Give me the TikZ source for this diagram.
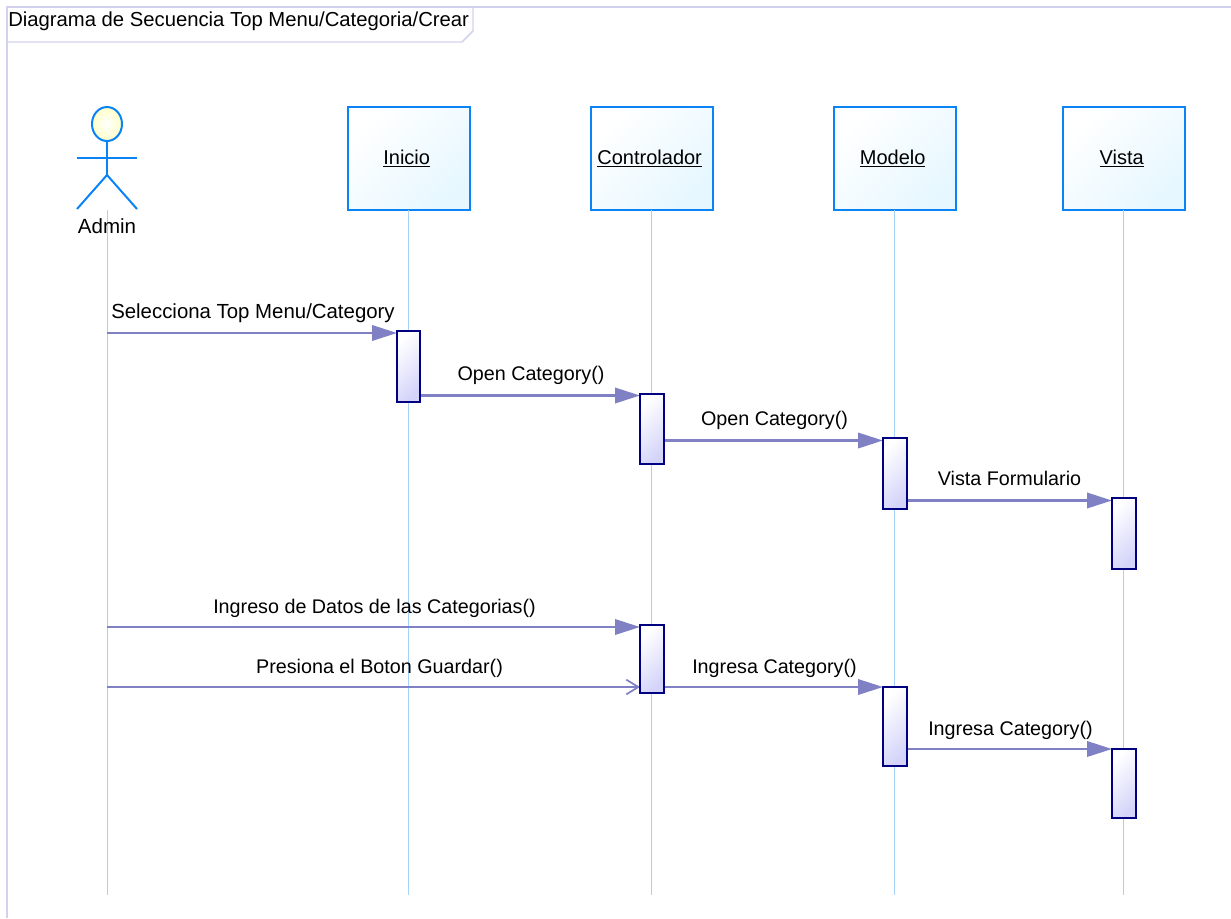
\documentclass[tikz,border=0pt]{standalone}
\usepackage{fontspec}
\setmainfont{Liberation Sans}
\usetikzlibrary{shapes,positioning,calc,arrows.meta}
\definecolor{objline}{HTML}{0A84F5}
\definecolor{objfill}{HTML}{E6F7FF}
\definecolor{actline}{HTML}{000080}
\definecolor{actfill}{HTML}{D4D4FA}
\definecolor{msgline}{HTML}{8080C4}
\definecolor{lifecol}{HTML}{A6D2F7}
\definecolor{framecol}{HTML}{D2D2EE}
\newcommand{\objname}[1]{\underline{#1}\kern3.5pt\relax}
\tikzset{
	objbox/.style={draw=objline, line width=1.5pt, left color=white, right color=objfill, shading angle=45,
		minimum width=91.5pt, minimum height=77pt, inner sep=0pt, outer sep=0pt, font=\fontsize{15pt}{17pt}\selectfont},
	actbox/.style={draw=actline, line width=1.5pt, left color=white, right color=actfill, shading angle=45,
		minimum width=17.5pt, inner sep=0pt, outer sep=0pt},
	lifeline/.style={draw=lifecol, line width=0.75pt},
	msg/.style={draw=msgline, line width=1.9pt, -{Triangle[length=18.75pt,width=11.5pt]}},
	msgopen/.style={draw=msgline, line width=1.3pt, -{Straight Barb[length=9pt,width=11pt]}},
	msglabel/.style={font=\fontsize{14.8pt}{17pt}\selectfont, inner sep=0pt, anchor=base, xshift=0.75pt, yshift=11.25pt},
	stick/.style={draw=objline, line width=1.5pt},
	framing/.style={draw=framecol, line width=1.1pt}
}
\begin{document}
\begin{tikzpicture}[x=0.75pt,y=-0.75pt]
		\useasboundingbox (0,0) rectangle (1231,918);

		% frame
		\draw[framing] (1231,7) -- (7,7) -- (7,918);
		\draw[framing] (7,42) -- (462,42) -- (473,31) -- (473,7);
		\node[font=\fontsize{15.2pt}{17pt}\selectfont, inner sep=0pt, anchor=base west] (title) at (8,26) {Diagrama de Secuencia Top Menu/Categoria/Crear};

		% objects
		\node[objbox] (inicio) at (409,158.5) {\objname{Inicio}};
		\node[objbox] (control) at (652,158.5) {\objname{Controlador}};
		\node[objbox] (modelo) at (895,158.5) {\objname{Modelo}};
		\node[objbox] (vista) at (1124,158.5) {\objname{Vista}};

		\coordinate (lifeend) at (107,895);
		\coordinate (adminfoot) at (107,210);

		% lifelines
		\draw[lifeline] (adminfoot) -- (lifeend);
		\draw[lifeline] ([xshift=-0.75pt]inicio.south) -- ([xshift=-0.75pt]inicio.south |- lifeend);
		\draw[lifeline] ([xshift=-0.75pt]control.south) -- ([xshift=-0.75pt]control.south |- lifeend);
		\draw[lifeline] ([xshift=-0.75pt]modelo.south) -- ([xshift=-0.75pt]modelo.south |- lifeend);
		\draw[lifeline] ([xshift=-0.75pt]vista.south) -- ([xshift=-0.75pt]vista.south |- lifeend);

		% actor
		\node[stick, ellipse, inner color=white, outer color=yellow!22,
			minimum width=22.5pt, minimum height=25.5pt, inner sep=0pt, outer sep=0pt] (head) at (107,124) {};
		\coordinate (hip) at (107,175);
		\coordinate (armleft) at (77,158);
		\coordinate (armright) at (137,158);
		\coordinate (footleft) at (77,209);
		\coordinate (footright) at (137,209);
		\draw[stick] (head.south) -- (hip);
		\draw[stick] (armleft) -- (armright);
		\draw[stick] (footleft) -- (hip) -- (footright);
		\node[font=\fontsize{15.4pt}{17pt}\selectfont, inner sep=0pt, anchor=base] (admin) at (107,233) {Admin};

		% message heights
		\coordinate (ma) at (107,333);
		\coordinate (mb) at (107,395.5);
		\coordinate (mc) at (107,440.5);
		\coordinate (md) at (107,500.5);
		\coordinate (me) at (107,627);
		\coordinate (mf) at (107,687);
		\coordinate (mg) at (107,749);

		% messages under the activations
		\draw[msg] (ma) -- (ma -| 397,0) node[msglabel, font=\fontsize{15.3pt}{17pt}\selectfont, midway, yshift=-0.7pt] (la) {Selecciona Top Menu/Category};
		\draw[msg] (mb -| 420,0) -- (mb -| 640,0) node[msglabel, midway] (lb) {Open Category()};
		\draw[msg] (mc -| 664,0) -- (mc -| 883,0) node[msglabel, midway] (lc) {Open Category()};
		\draw[msg] (md -| 907,0) -- (md -| 1112,0) node[msglabel, midway, xshift=-0.75pt] (ld) {Vista Formulario};
		\draw[msg] (me) -- (me -| 640,0) node[msglabel, midway, yshift=-1.1pt] (le) {Ingreso de Datos de las Categorias()};
		\draw[msgopen] (mf) -- (mf -| 640,0) node[msglabel, midway, xshift=3.75pt, yshift=-1.1pt] (lf) {Presiona el Boton Guardar()};
		\draw[msg] (mf -| 664,0) -- (mf -| 883,0) node[msglabel, midway, yshift=-1.1pt] (lg) {Ingresa Category()};
		\draw[msg] (mg -| 907,0) -- (mg -| 1112,0) node[msglabel, midway, yshift=-1.1pt] (lh) {Ingresa Category()};

		% activations
		\node[actbox, minimum height=53.25pt] (inicioact) at (408.5,366.5) {};
		\node[actbox, minimum height=52.5pt] (controlact) at (652,429) {};
		\node[actbox, minimum height=53.25pt] (modeloact) at (895,473.5) {};
		\node[actbox, minimum height=53.25pt] (vistaact) at (1124,533.5) {};
		\node[actbox, minimum height=51pt] (controlactb) at (652,659) {};
		\node[actbox, minimum height=59.25pt] (modeloactb) at (895,726.5) {};
		\node[actbox, minimum height=51.75pt] (vistaactb) at (1124,783.5) {};

	\end{tikzpicture}
\end{document}
